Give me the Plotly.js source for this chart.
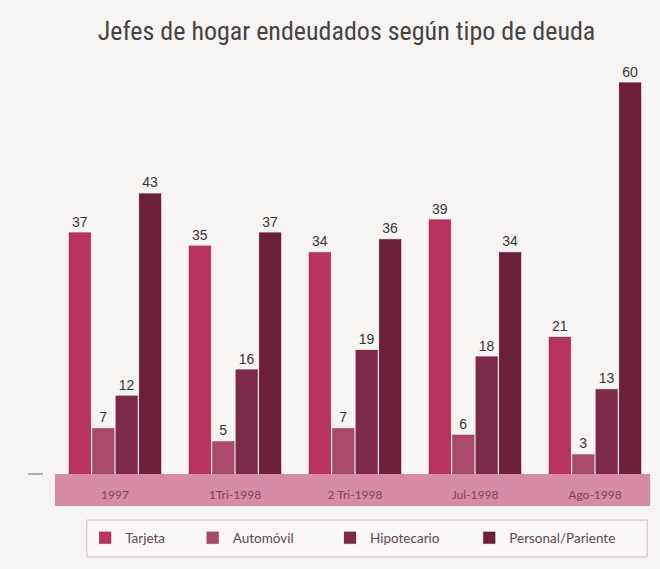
<!DOCTYPE html>
<html>
<head>
<meta charset="utf-8">
<script src="https://cdn.plot.ly/plotly-3.0.1.min.js"></script>
<style>
  html, body { margin: 0; padding: 0; background: #f7f4f4; }
  #chart { width: 660px; height: 569px; }
</style>
</head>
<body>
<div id="chart"></div>
<script>
// periods and series
var periods = ['1997', '1Tri-1998', '2 Tri-1998', 'Jul-1998', 'Ago-1998'];
var seriesNames = ['Tarjeta', 'Automóvil', 'Hipotecario', 'Personal/Pariente'];
var tarjeta   = [37, 35, 34, 39, 21];
var automovil = [7, 5, 7, 6, 3];
var hipotecario = [12, 16, 19, 18, 13];
var personal  = [43, 37, 36, 34, 60];

var colors = ['#b8335f', '#a84a6c', '#7e2a4a', '#6b1f3b'];
var values = [tarjeta, automovil, hipotecario, personal];
// one legend per series so each entry sits where the print has it
var legendIds = ['legend', 'legend2', 'legend3', 'legend4'];
var legendX = [0.129, 0.292, 0.5, 0.711];

var traces = [];
for (var i = 0; i < values.length; i++) {
	traces.push({
		type: 'bar',
		name: seriesNames[i],
		legend: legendIds[i],
		x: periods,
		y: values[i],
		text: values[i].map(String),
		textposition: 'outside',
		cliponaxis: false,
		textfont: {family: 'Liberation Sans, Arial, sans-serif', size: 14, color: '#3a3535'},
		marker: {color: colors[i], line: {color: 'rgba(90,20,45,0.35)', width: 0.5}}
	});
}

var layout = {
	width: 660,
	height: 569,
	paper_bgcolor: '#f7f4f4',
	plot_bgcolor: 'rgba(0,0,0,0)',
	margin: {l: 55, r: 5, t: 63, b: 95, autoexpand: false},
	title: {
		text: 'Jefes de hogar endeudados según tipo de deuda',
		font: {family: 'Liberation Sans Narrow, Roboto Condensed, Arial Narrow, sans-serif', size: 26, color: '#444'},
		x: 0.525, xanchor: 'center', y: 0.945, yanchor: 'middle'
	},
	barmode: 'group',
	bargap: 0.22,
	bargroupgap: 0.06,
	xaxis: {
		showline: false, showgrid: false, zeroline: false, ticks: '',
		ticklabelstandoff: 12,
		tickfont: {family: 'Lato, DejaVu Sans, sans-serif', size: 12, color: '#7a4656'}
	},
	yaxis: {
		range: [0, 63], visible: false, fixedrange: true
	},
	shapes: [
		{type: 'rect', xref: 'paper', yref: 'paper', x0: 0, x1: 0.992, y0: -0.078, y1: 0,
		 fillcolor: '#d68ba6', line: {width: 0}, layer: 'below'},
		{type: 'line', xref: 'paper', yref: 'paper', x0: -0.045, x1: -0.02, y0: 0, y1: 0,
		 line: {color: '#666', width: 1}},
		{type: 'rect', xref: 'paper', yref: 'paper', x0: 0.053, x1: 0.987, y0: -0.202, y1: -0.112,
		 fillcolor: '#f9f7f7', line: {color: '#cdbfc5', width: 1}, layer: 'below'}
	],
	showlegend: true
};

for (var k = 0; k < legendIds.length; k++) {
	layout[legendIds[k]] = {
		xref: 'container', yref: 'container',
		x: legendX[k], xanchor: 'left',
		y: 0.0545, yanchor: 'middle',
		bgcolor: 'rgba(0,0,0,0)',
		borderwidth: 0,
		font: {family: 'Lato, DejaVu Sans, sans-serif', size: 13.5, color: '#5a4a50'}
	};
}

Plotly.newPlot('chart', traces, layout, {displayModeBar: false, staticPlot: true});
</script>
</body>
</html>
